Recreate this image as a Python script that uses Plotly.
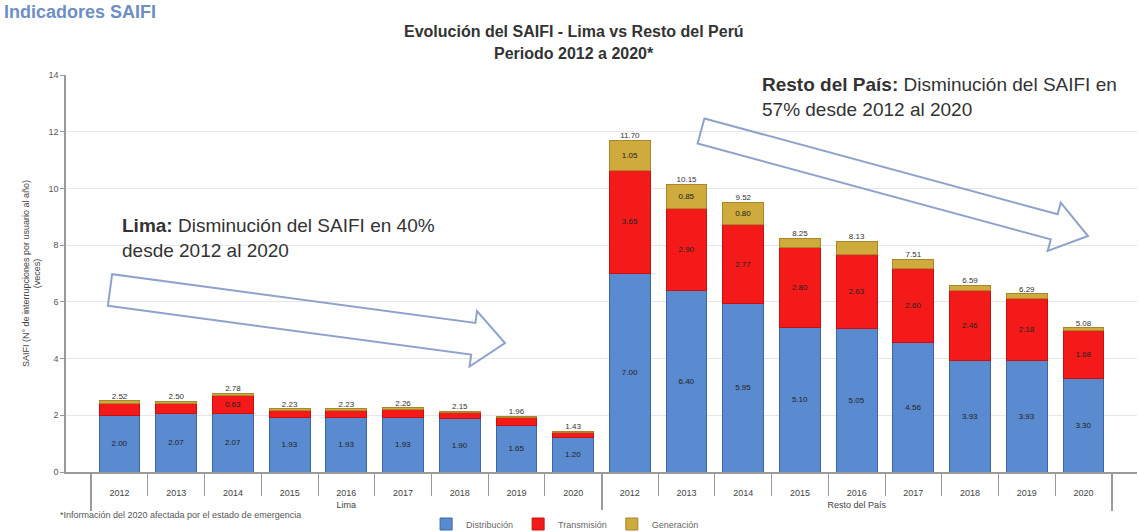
import plotly.graph_objects as go

# ---------------- data ----------------
years = ["2012", "2013", "2014", "2015", "2016", "2017", "2018", "2019", "2020"]
regions = ["Lima", "Resto del País"]

lima_dist = [2.00, 2.07, 2.07, 1.93, 1.93, 1.93, 1.90, 1.65, 1.20]
lima_trans = [0.42, 0.35, 0.63, 0.25, 0.25, 0.28, 0.21, 0.28, 0.20]
lima_gen = [0.10, 0.08, 0.08, 0.05, 0.05, 0.05, 0.04, 0.03, 0.03]

resto_dist = [7.00, 6.40, 5.95, 5.10, 5.05, 4.56, 3.93, 3.93, 3.30]
resto_trans = [3.65, 2.90, 2.77, 2.80, 2.63, 2.60, 2.46, 2.18, 1.68]
resto_gen = [1.05, 0.85, 0.80, 0.35, 0.45, 0.35, 0.20, 0.18, 0.10]

series_names = ["Distribución", "Transmisión", "Generación"]

# ---------------- geometry helpers ----------------
W, H = 1139, 532
ML, MR, MT, MB = 66, 2, 75, 60
PW, PH = W - ML - MR, H - MT - MB


def px(x):
    return (x - ML) / PW


def py(y):
    return (H - MB - y) / PH


def arrow_path(x0, y0, x1, y1, sw, hw, hl):
    dx, dy = x1 - x0, y1 - y0
    L = (dx * dx + dy * dy) ** 0.5
    ux, uy = dx / L, dy / L
    nx, ny = -uy, ux
    nkx, nky = x1 - ux * hl, y1 - uy * hl
    pts = [
        (x0 + nx * sw, y0 + ny * sw),
        (nkx + nx * sw, nky + ny * sw),
        (nkx + nx * hw, nky + ny * hw),
        (x1, y1),
        (nkx - nx * hw, nky - ny * hw),
        (nkx - nx * sw, nky - ny * sw),
        (x0 - nx * sw, y0 - ny * sw),
    ]
    s = "M " + " L ".join(f"{px(a):.5f},{py(b):.5f}" for a, b in pts) + " Z"
    return s


# ---------------- figure ----------------
# labels pushed down one line to sit below the axis like the reference
year_labels = ["<br>" + y for y in years]
region_labels = ["<br>" + r for r in regions]
xcat = [[r for r in region_labels for _ in years], year_labels + year_labels]
dist = lima_dist + resto_dist
trans = lima_trans + resto_trans
gen = lima_gen + resto_gen
totals = [round(a + b + c, 2) for a, b, c in zip(dist, trans, gen)]

colors = ["#5A8ACF", "#F41A1A", "#CFAA3C"]
lines = ["#3C66A6", "#C81010", "#A8862A"]

fig = go.Figure()
for name, vals, c, lc in zip(series_names, [dist, trans, gen], colors, lines):
    fig.add_trace(go.Bar(
        x=xcat, y=vals, name=name,
        marker=dict(color=c, line=dict(color=lc, width=1)),
        text=[f"{v:.2f}" for v in vals],
        textposition="inside", insidetextanchor="middle",
        insidetextfont=dict(size=8, color="#222222"),
        hoverinfo="y",
    ))

fig.add_trace(go.Scatter(
    x=xcat, y=totals, mode="text",
    text=[f"{v:.2f}" for v in totals],
    textposition="top center",
    textfont=dict(size=8, color="#333333"),
    showlegend=False, hoverinfo="skip",
))

fig.update_layout(
    width=W, height=H,
    margin=dict(l=ML, r=MR, t=MT, b=MB, autoexpand=False),
    barmode="stack", bargap=0.28,
    paper_bgcolor="white", plot_bgcolor="white",
    font=dict(family="Liberation Sans, Arial, sans-serif", color="#333333"),
    uniformtext=dict(minsize=7, mode="hide"),
    legend=dict(orientation="h", x=0.466, xanchor="center", y=py(524),
                yanchor="middle", font=dict(size=9, color="#666666"),
                traceorder="normal"),
    showlegend=True,
)

fig.update_yaxes(
    range=[0, 14], dtick=2, tickformat=".0f",
    showgrid=True, gridcolor="#E6E6E6", gridwidth=1,
    showline=True, linecolor="#9A9A9A", linewidth=1.5,
    ticks="outside", ticklen=4, tickcolor="#9A9A9A",
    tickfont=dict(size=9, color="#555555"),
    title=dict(text="SAIFI (N° de interrupciones por usuario al año)<br>(veces)",
               font=dict(size=9, color="#444444"), standoff=6),
    zeroline=False, automargin=False,
)
fig.update_xaxes(
    type="multicategory", automargin=False,
    showline=True, linecolor="#9A9A9A", linewidth=1.5,
    ticks="outside", ticklen=22, tickcolor="#9A9A9A",
    tickfont=dict(size=9, color="#444444"),
    dividercolor="#9A9A9A", dividerwidth=1.5,
    showgrid=False,
)

# titles
fig.add_annotation(xref="paper", yref="paper", x=px(574), y=py(31),
                   text="<b>Evolución del SAIFI - Lima vs Resto del Perú</b>",
                   showarrow=False, font=dict(size=16, color="#333333"),
                   xanchor="center", yanchor="middle")
fig.add_annotation(xref="paper", yref="paper", x=px(574), y=py(53),
                   text="<b>Periodo 2012 a 2020*</b>",
                   showarrow=False, font=dict(size=16, color="#333333"),
                   xanchor="center", yanchor="middle")

# slide heading at top-left
fig.add_annotation(xref="paper", yref="paper", x=px(2), y=py(12),
                   text="<b>Indicadores SAIFI</b>", showarrow=False,
                   font=dict(size=18, color="#6E8FC4"),
                   xanchor="left", yanchor="middle")

# region notes
fig.add_annotation(xref="paper", yref="paper", x=px(120), y=py(238),
                   text="<b>Lima:</b> Disminución del SAIFI en 40%<br>desde 2012 al 2020",
                   showarrow=False, align="left", xanchor="left", yanchor="middle",
                   font=dict(size=19, color="#333333"))
fig.add_annotation(xref="paper", yref="paper", x=px(760), y=py(97),
                   text="<b>Resto del País:</b> Disminución del SAIFI en<br>57% desde 2012 al 2020",
                   showarrow=False, align="left", xanchor="left", yanchor="middle",
                   font=dict(size=19, color="#333333"))

# footnote
fig.add_annotation(xref="paper", yref="paper", x=px(58), y=py(515),
                   text="*Información del 2020 afectada por el estado de emergencia",
                   showarrow=False, xanchor="left", yanchor="middle",
                   font=dict(size=9, color="#555555"))

# block arrows
fig.add_shape(type="path", xref="paper", yref="paper",
              path=arrow_path(110, 290, 505, 343, 16, 28, 32),
              line=dict(color="#8FA2CC", width=2), fillcolor="rgba(255,255,255,0)")
fig.add_shape(type="path", xref="paper", yref="paper",
              path=arrow_path(701, 131, 1088, 236, 13, 25, 35),
              line=dict(color="#8FA2CC", width=2), fillcolor="rgba(255,255,255,0)")

fig.write_html("out.html")
